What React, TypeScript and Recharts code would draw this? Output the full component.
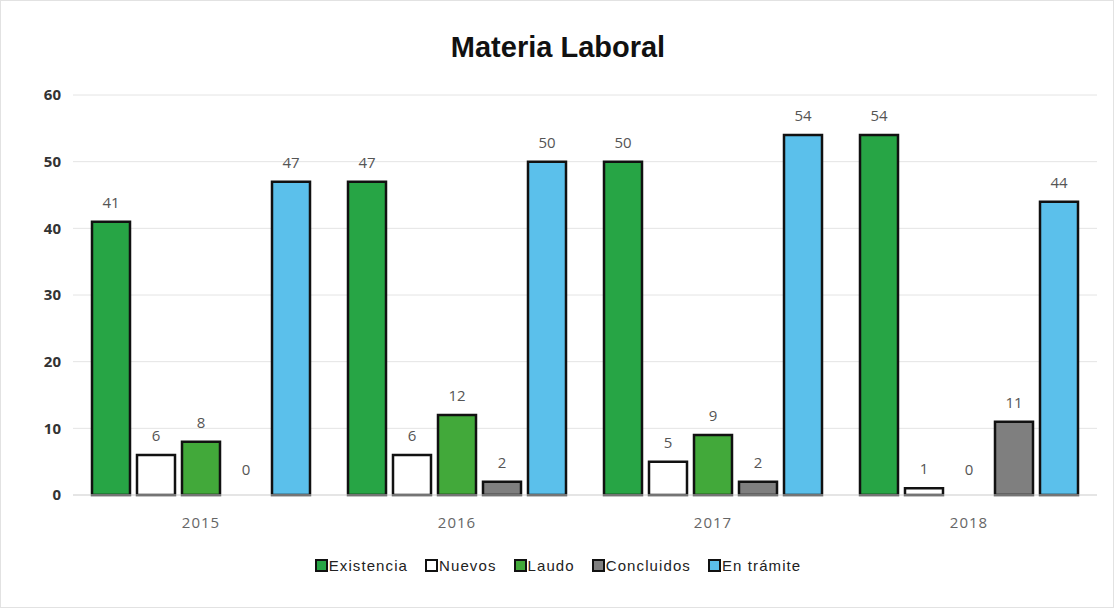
import React from 'react';
import { BarChart, Bar, Cell, XAxis, YAxis, CartesianGrid, LabelList } from 'recharts';

const years = ['2015', '2016', '2017', '2018'];
const existencia = [41, 47, 50, 54];
const nuevos = [6, 6, 5, 1];
const laudo = [8, 12, 9, 0];
const concluidos = [0, 2, 2, 11];
const enTramite = [47, 50, 54, 44];
const yTicks = [0, 10, 20, 30, 40, 50, 60];

const series = [
  { key: 'Existencia', fill: '#27a545', values: existencia },
  { key: 'Nuevos', fill: '#ffffff', values: nuevos },
  { key: 'Laudo', fill: '#42a93a', values: laudo },
  { key: 'Concluidos', fill: '#7f7f7f', values: concluidos },
  { key: 'En trámite', fill: '#5bc0eb', values: enTramite },
];

const data = years.map((year, i) => ({
  year,
  Existencia: existencia[i],
  Nuevos: nuevos[i],
  Laudo: laudo[i],
  Concluidos: concluidos[i],
  'En trámite': enTramite[i],
}));

const labelFont = "'Open Sans', 'DejaVu Sans', sans-serif";

// draws the value above the bar, also for zero-height bars
const renderValue = (props: any) => {
  const { x, y, width, height, value } = props;
  if (value === undefined || value === null) return null;
  const top = Number(y) + Math.min(0, Number(height) || 0);
  const offset = value === 0 ? 20 : 14;
  return (
    <text
      x={Number(x) + Number(width) / 2}
      y={top - offset}
      textAnchor="middle"
      fill="#555"
      fontSize={15}
      fontFamily={labelFont}
    >
      {value}
    </text>
  );
};

// keep zero bars in the layout so their "0" label still gets drawn
const zeroSize = (value: any) => (value === 0 ? 0.01 : 0);

export default function App() {
  return (
    <div
      style={{
        position: 'absolute',
        left: 0,
        top: 0,
        width: 1114,
        height: 608,
        background: '#fff',
        boxSizing: 'border-box',
        border: '1px solid #e2e2e2',
        fontFamily: "'Liberation Sans', Arial, sans-serif",
      }}
    >
      {/* title */}
      <div
        style={{
          position: 'absolute',
          top: 30,
          left: 0,
          width: 1114,
          textAlign: 'center',
          fontWeight: 'bold',
          fontSize: 29,
          color: '#111',
        }}
      >
        Materia Laboral
      </div>

      <BarChart
        width={1114}
        height={608}
        data={data}
        margin={{ top: 94, right: 18, left: 0, bottom: 84 }}
        barCategoryGap={19}
        barGap={7}
      >
        <CartesianGrid vertical={false} stroke="#e4e4e4" />
        <XAxis
          dataKey="year"
          height={30}
          tickLine={false}
          axisLine={{ stroke: '#d9d9d9' }}
          tickMargin={16}
          tick={{ fill: '#666', fontSize: 15, fontFamily: labelFont, letterSpacing: 1 }}
        />
        <YAxis
          width={72}
          domain={[0, 60]}
          ticks={yTicks}
          tickLine={false}
          axisLine={false}
          tickSize={0}
          tickMargin={12}
          tick={{ fill: '#333', fontSize: 15, fontWeight: 'bold', fontFamily: labelFont }}
        />
        {series.map((s) => (
          <Bar
            key={s.key}
            dataKey={s.key}
            fill={s.fill}
            stroke="#111"
            strokeWidth={2.5}
            minPointSize={zeroSize}
            isAnimationActive={false}
          >
            {s.values.map((v, i) => (
              <Cell
                key={i}
                fill={v === 0 ? 'none' : s.fill}
                stroke={v === 0 ? 'none' : '#111'}
              />
            ))}
            <LabelList dataKey={s.key} content={renderValue} />
          </Bar>
        ))}
      </BarChart>

      {/* legend */}
      <div
        style={{
          position: 'absolute',
          top: 556,
          left: 0,
          width: 1114,
          display: 'flex',
          justifyContent: 'center',
          gap: 17,
          fontSize: 15,
          letterSpacing: 1.1,
          color: '#222',
        }}
      >
        {series.map((s) => (
          <div key={s.key} style={{ display: 'flex', alignItems: 'center' }}>
            <span
              style={{
                display: 'inline-block',
                width: 9,
                height: 9,
                background: s.fill,
                border: '2px solid #111',
                marginRight: 1,
              }}
            />
            <span>{s.key}</span>
          </div>
        ))}
      </div>
    </div>
  );
}
